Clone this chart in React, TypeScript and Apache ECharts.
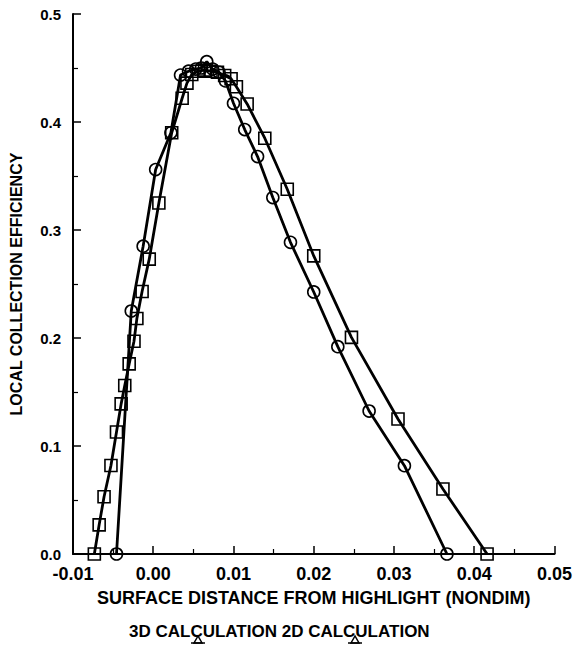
import React, { useEffect, useRef } from "react";
import * as echarts from "echarts";

// Series with circle markers (3D calculation)
const circleX = [-0.00458, -0.00274, -0.00126, 0.0003, 0.0022, 0.0034, 0.0044, 0.0053, 0.006, 0.00667, 0.0074, 0.0082, 0.009, 0.01, 0.0114, 0.013, 0.0149, 0.0171, 0.02, 0.023, 0.0269, 0.0313, 0.0366];
const circleY = [0, 0.225, 0.285, 0.356, 0.39, 0.4435, 0.447, 0.449, 0.45, 0.4558, 0.449, 0.446, 0.438, 0.4173, 0.393, 0.368, 0.33, 0.2886, 0.2426, 0.192, 0.1324, 0.0818, 0];

// Series with square markers (2D calculation)
const squareX = [-0.00734, -0.00674, -0.00613, -0.00527, -0.00458, -0.004, -0.00355, -0.003, -0.0024, -0.00204, -0.00139, -0.0005, 0.0007, 0.0023, 0.0036, 0.0042, 0.0048, 0.0056, 0.0064, 0.0072, 0.008, 0.0089, 0.0097, 0.01036, 0.0117, 0.0139, 0.0167, 0.02, 0.0247, 0.0305, 0.0361, 0.0416];
const squareY = [0, 0.027, 0.053, 0.082, 0.113, 0.139, 0.156, 0.176, 0.197, 0.218, 0.243, 0.273, 0.325, 0.39, 0.422, 0.436, 0.444, 0.447, 0.448, 0.447, 0.446, 0.443, 0.44, 0.4327, 0.4167, 0.385, 0.3377, 0.276, 0.2006, 0.125, 0.0602, 0];

const seriesNames = ["3D CALCULATION", "2D CALCULATION"];
const xTitle = "SURFACE DISTANCE FROM HIGHLIGHT (NONDIM)";
const yTitle = "LOCAL COLLECTION EFFICIENCY";

const FONT = "'Liberation Sans', Arial, sans-serif";

function zip(xs: number[], ys: number[]) {
  return xs.map((x, i) => [x, ys[i]]);
}

export default function App() {
  const ref = useRef<HTMLDivElement>(null);
  useEffect(() => {
    if (!ref.current) return;
    const chart = echarts.init(ref.current, undefined, { renderer: "svg" });
    const tri = (cx: number) => [
      {
        type: "polygon",
        shape: { points: [[cx, 636], [cx - 4, 643], [cx + 4, 643]] },
        style: { fill: "none", stroke: "#000", lineWidth: 1.5 },
      },
      {
        type: "line",
        shape: { x1: cx - 7, y1: 643, x2: cx + 7, y2: 643 },
        style: { stroke: "#000", lineWidth: 1.5 },
      },
    ];
    chart.setOption({
      animation: false,
      backgroundColor: "#fff",
      grid: { left: 66, top: 14, width: 489, height: 540, containLabel: false },
      xAxis: {
        type: "value",
        min: -0.01,
        max: 0.05,
        interval: 0.01,
        name: xTitle,
        nameLocation: "middle",
        nameGap: 35,
        nameTextStyle: { color: "#000", fontFamily: FONT, fontWeight: "bold", fontSize: 18 },
        axisLine: { show: true, onZero: false, lineStyle: { color: "#000", width: 2 } },
        axisTick: { show: true, inside: true, length: 8, lineStyle: { color: "#000", width: 1.5 } },
        minorTick: { show: true, splitNumber: 2, length: 5, lineStyle: { color: "#000", width: 1.2 } },
        splitLine: { show: false },
        axisLabel: {
          color: "#000",
          fontFamily: FONT,
          fontWeight: "bold",
          fontSize: 18,
          margin: 11,
          formatter: (v: number) => (Math.abs(v) < 1e-9 ? 0 : v).toFixed(2),
        },
      },
      yAxis: {
        type: "value",
        min: 0,
        max: 0.5,
        interval: 0.1,
        name: yTitle,
        nameLocation: "middle",
        nameGap: 49,
        nameRotate: 90,
        nameTextStyle: { color: "#000", fontFamily: FONT, fontWeight: "bold", fontSize: 16 },
        axisLine: { show: true, onZero: false, lineStyle: { color: "#000", width: 2 } },
        axisTick: { show: true, inside: true, length: 8, lineStyle: { color: "#000", width: 1.5 } },
        minorTick: { show: true, splitNumber: 2, length: 5, lineStyle: { color: "#000", width: 1.2 } },
        splitLine: { show: false },
        axisLabel: {
          color: "#000",
          fontFamily: FONT,
          fontWeight: "bold",
          fontSize: 15,
          margin: 12,
          formatter: (v: number) => v.toFixed(1),
        },
      },
      series: [
        {
          name: seriesNames[0],
          type: "line",
          data: zip(circleX, circleY),
          symbol: "circle",
          symbolSize: 12,
          lineStyle: { color: "#000", width: 2.8 },
          itemStyle: { color: "transparent", borderColor: "#000", borderWidth: 1.6 },
          z: 3,
        },
        {
          name: seriesNames[1],
          type: "line",
          data: zip(squareX, squareY),
          symbol: "rect",
          symbolSize: 12,
          lineStyle: { color: "#000", width: 2.8 },
          itemStyle: { color: "transparent", borderColor: "#000", borderWidth: 1.6 },
          z: 3,
        },
      ],
      graphic: [
        {
          type: "text",
          left: 129,
          top: 623,
          style: {
            text: seriesNames[0] + " " + seriesNames[1],
            fill: "#000",
            font: `bold 17px ${FONT}`,
          },
        },
        ...tri(198),
        ...tri(355),
      ],
    });
    return () => chart.dispose();
  }, []);
  return <div ref={ref} style={{ position: "absolute", left: 0, top: 0, width: 575, height: 646 }} />;
}
